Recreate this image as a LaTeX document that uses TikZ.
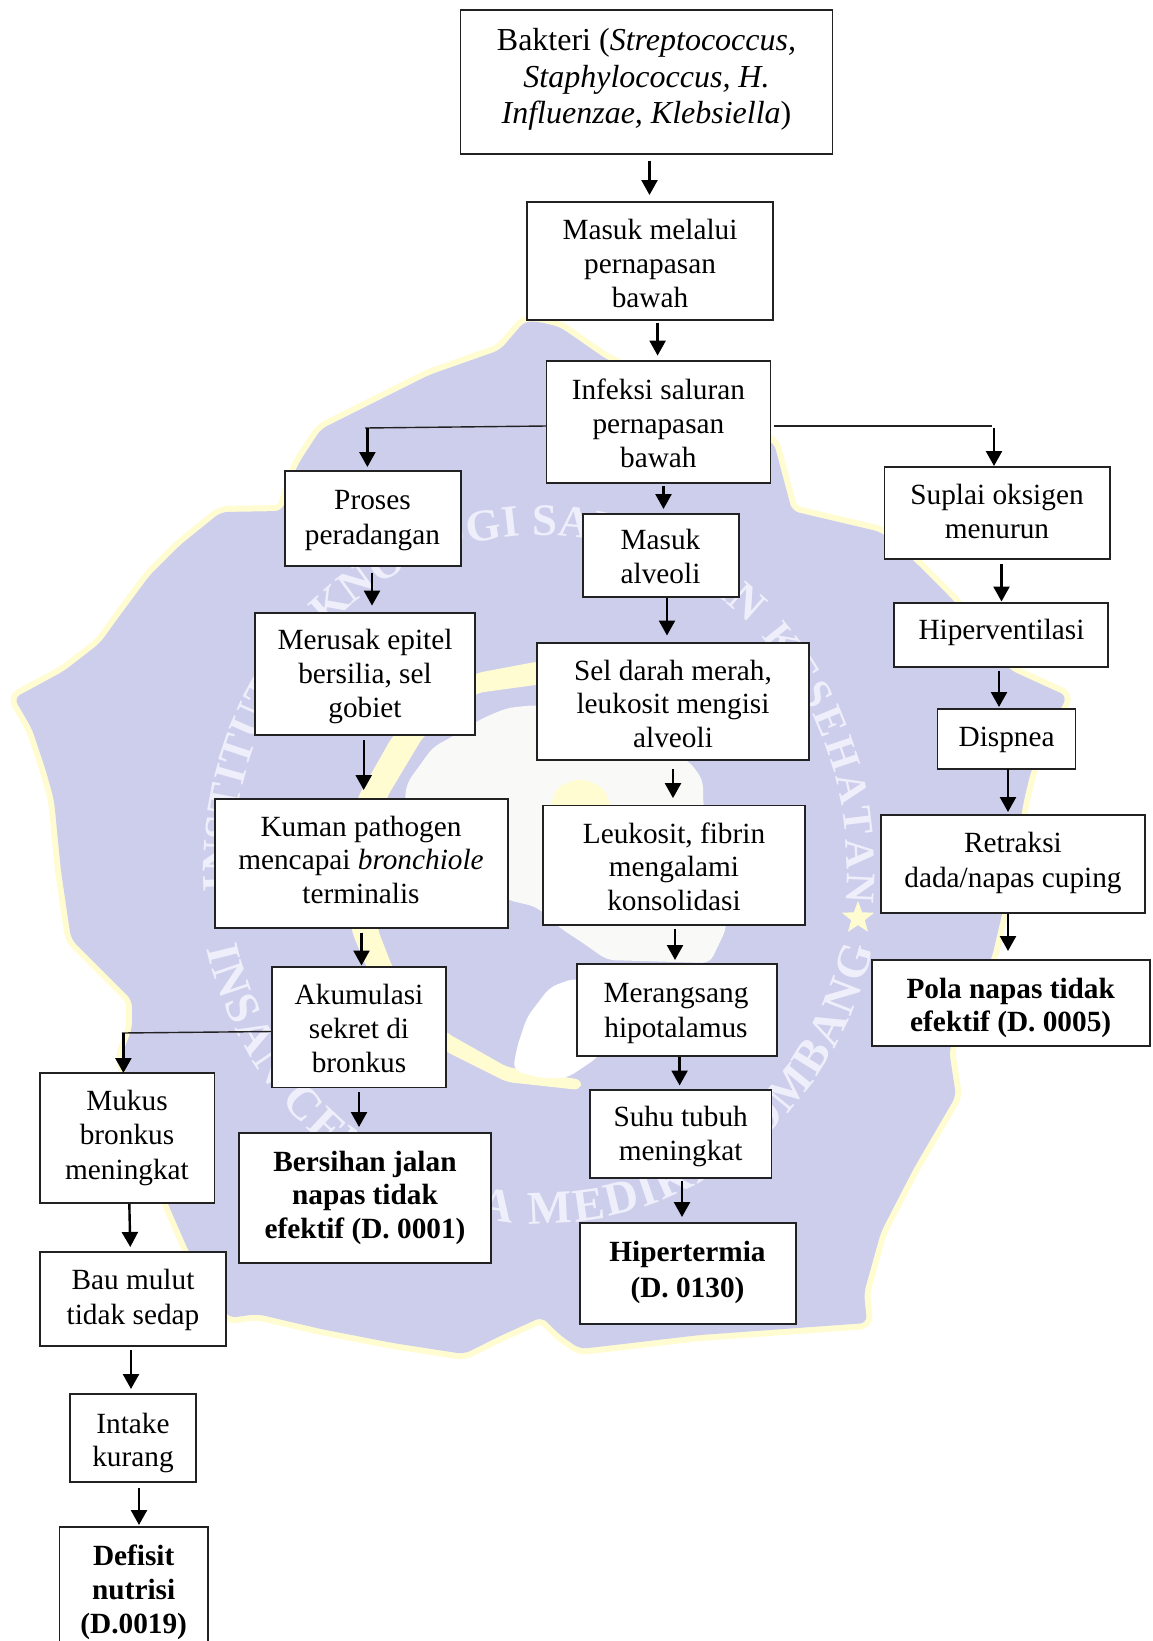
\documentclass[tikz,border=0pt]{standalone}
\usepackage{fontspec}
\setmainfont{Liberation Serif}
\usetikzlibrary{arrows.meta,shapes.geometric,decorations.text}
\definecolor{lav}{HTML}{CDCEEC}
\definecolor{wy}{HTML}{FFFCD2}
\definecolor{wm}{HTML}{EEEFFA}
\definecolor{wt}{HTML}{F9FAF8}
\definecolor{edgec}{HTML}{222222}
\tikzset{
  box/.style={draw=edgec,line width=1.4pt,fill=white,inner sep=0pt,outer sep=0pt,text=black},
  arr/.style={black,line width=2.4pt,-{Triangle[length=15pt,width=16pt]}},
  link/.style={edgec,line width=1.4pt},
  wmpath/.style={decorate,decoration={text along path,text align=fit to path,text={#1}}}
}
\newcommand\wmfont{\fontsize{47}{47}\selectfont\bfseries\color{wm}}
\newcommand\wmfonta{\fontsize{45}{47}\selectfont\bfseries\color{wm}}
\newcommand\wmfontb{\fontsize{42}{47}\selectfont\bfseries\color{wm}}
\def\fsz{29.3}
\newcommand\bx[9]{%
  \pgfmathsetmacro\cxx{(#2+#4)/2}\pgfmathsetmacro\cyy{(#3+#5)/2}%
  \pgfmathsetmacro\wdd{#4-#2}\pgfmathsetmacro\htt{#5-#3}%
  \pgfmathsetmacro\dxx{2*(#6-\cxx)}\pgfmathsetmacro\dyy{\cyy-#7-2}%
  \node[box,minimum width=\wdd pt,minimum height=\htt pt] (#1) at (\cxx,\cyy)
   {\fontsize{\fsz}{#8}\selectfont\raisebox{\dimexpr\dyy pt-.25em\relax}[0pt][0pt]{\makebox[0pt][c]{\hspace{\dxx pt}\begin{tabular}{@{}c@{}}#9\end{tabular}}}};}
% from node a to node b at abscissas x1,x2, with gaps g1,g2 to the boxes
\newcommand\conn[6]{\draw[arr,shorten <=#5pt,shorten >=#6pt] (#3,0 |- #1.south) -- (#4,0 |- #2.north);}
\begin{document}
\begin{tikzpicture}[x=1pt,y=-1pt]
\clip (0,0) rectangle (1152,1641);
\fill[white] (0,0) rectangle (1152,1641);
% watermark
\def\blob{(540,322) -- (560,327) -- (606,359) -- (690,400) -- (774,443) -- (792,511) -- (881,532) -- (914,561) -- (953,600) -- (1010,670) -- (1067,696) -- (1031,771) -- (1024,800) -- (1010,880) -- (992,957) -- (949,1050) -- (956,1096) -- (914,1168) -- (881,1232) -- (864,1293) -- (867,1323) -- (700,1335) -- (580,1349) -- (560,1335) -- (542,1317) -- (500,1336) -- (464,1354) -- (393,1343) -- (321,1329) -- (257,1314) -- (229,1318) -- (189,1252) -- (168,1204) -- (140,1120) -- (121,1057) -- (132,1029) -- (132,1000) -- (100,968) -- (71,939) -- (61,871) -- (54,800) -- (46,771) -- (32,729) -- (14,698) -- (64,671) -- (100,643) -- (121,614) -- (150,575) -- (179,546) -- (221,512) -- (282,511) -- (295,471) -- (300,461) -- (321,429) -- (357,411) -- (429,375) -- (500,350) -- (525,321) -- cycle}
\draw[wy,line width=12pt,line join=round,rounded corners=7pt] \blob;
\fill[lav,rounded corners=7pt] \blob;
% yellow ring
\fill[wy,rounded corners=6pt] (590,660) -- (535,662) -- (477,673) -- (430,700) -- (392,737) -- (358,797) -- (345,860) -- (352,932) -- (366,966) -- (400,1015) -- (447,1052) -- (507,1082) -- (580,1090) -- (582,1080) -- (507,1067) -- (447,1033) -- (405,990) -- (392,966) -- (378,930) -- (375,860) -- (387,797) -- (423,737) -- (477,693) -- (535,685) -- (590,680) -- cycle;
% pale figure
\fill[wt,rounded corners=8pt] (535,705) -- (600,715) -- (690,762) -- (703,780) -- (703,803) -- (727,927) -- (710,963) -- (607,960) -- (583,943) -- (560,928) -- (537,907) -- (508,900) -- (405,850) -- (405,797) -- (407,783) -- (433,747) -- (450,738) -- (483,718) -- (507,708) -- cycle;
\fill[white,rounded corners=8pt] (575,978) -- (550,987) -- (527,1017) -- (517,1047) -- (513,1070) -- (540,1078) -- (567,1078) -- (597,1058) -- (640,1000) -- cycle;
% small dome
\fill[wy,rounded corners=8pt] (547,815) -- (557,787) -- (580,778) -- (603,787) -- (615,815) -- cycle;
% ring lettering
\path[wmpath={|\wmfonta|INSTITUT TEKNOLOGI SAINS DAN}] plot[domain=184:47,samples=50] ({540+307*cos(\x)},{868-333*sin(\x)});
\path[wmpath={|\wmfontb|KESEHATAN}] plot[domain=44:-6,samples=25] ({540+307*cos(\x)},{868-333*sin(\x)});
\path[wmpath={|\wmfont|INSAN CENDEKIA MEDIKA JOMBANG}] plot[domain=193:347,samples=60] ({540+342*cos(\x)},{868-356*sin(\x)});
\node[star,star points=5,star point ratio=2.4,fill=wy,minimum size=34pt,inner sep=0pt] (starmark) at (858,918) {};
% boxes
\def\fsz{32}
\bx{bak}{460.5}{10}{832.5}{154}{646.5}{76}{36.7}{Bakteri (\textit{Streptococcus,}\\\textit{Staphylococcus, H.}\\\textit{Influenzae, Klebsiella})}
\def\fsz{29.3}
\bx{mas}{527}{202}{773}{320}{650}{264}{34}{Masuk melalui\\pernapasan\\bawah}
\bx{inf}{546.5}{361}{770.5}{483}{658.4}{424}{34}{Infeksi saluran\\pernapasan\\bawah}
\bx{pro}{285}{471}{461}{566}{372.5}{517}{35.5}{Proses\\peradangan}
\bx{sup}{884.5}{467}{1110}{559}{997}{512}{34}{Suplai oksigen\\menurun}
\bx{alv}{583}{514}{739}{597}{660.5}{557}{34}{Masuk\\alveoli}
\bx{mer}{255}{613}{475}{735}{365}{674}{34}{Merusak epitel\\bersilia, sel\\gobiet}
\bx{sel}{537}{643}{809}{760}{673}{704}{33.5}{Sel darah merah,\\leukosit mengisi\\alveoli}
\bx{hip}{894}{603}{1108}{667}{1001.5}{630}{34}{Hiperventilasi}
\bx{dis}{937.5}{709}{1075.5}{769}{1006.6}{736.4}{34}{Dispnea}
\bx{kum}{215}{799}{508}{928}{361}{860}{33.8}{Kuman pathogen\\mencapai \textit{bronchiole}\\terminalis}
\bx{leu}{543}{805.5}{805}{925}{674}{867}{33.5}{Leukosit, fibrin\\mengalami\\konsolidasi}
\bx{ret}{881}{815}{1145}{913}{1013}{859.5}{35}{Retraksi\\dada/napas cuping}
\bx{pol}{872}{960}{1150}{1046}{1010.7}{1005}{33.5}{\textbf{Pola napas tidak}\\\textbf{efektif (D. 0005)}}
\bx{aku}{272}{967}{446}{1087.5}{359}{1028.5}{34}{Akumulasi\\sekret di\\bronkus}
\bx{men}{577}{964}{777}{1056}{676}{1010}{35.5}{Merangsang\\hipotalamus}
\bx{suh}{590}{1090}{771.5}{1178}{680.7}{1134}{34}{Suhu tubuh\\meningkat}
\bx{muk}{40}{1073}{214.5}{1203}{127}{1135}{34.2}{Mukus\\bronkus\\meningkat}
\bx{ber}{239}{1133}{491}{1263}{365}{1195}{33.3}{\textbf{Bersihan jalan}\\\textbf{napas tidak}\\\textbf{efektif (D. 0001)}}
\bx{hit}{580}{1223}{796}{1324}{687.5}{1269}{36.8}{\textbf{Hipertermia}\\\textbf{(D. 0130)}}
\bx{bau}{40}{1252}{226}{1346}{133}{1296.7}{35}{Bau mulut\\tidak sedap}
\bx{itk}{70}{1394}{196}{1482}{133}{1440}{33.7}{Intake\\kurang}
\bx{def}{59.5}{1527}{208}{1660}{133.7}{1590}{34}{\textbf{Defisit}\\\textbf{nutrisi}\\\textbf{(D.0019)}}
% straight connectors
\conn{bak}{mas}{649.5}{649.5}{6.6}{7}
\conn{mas}{inf}{657.6}{657.6}{2.7}{5.4}
\conn{inf}{alv}{663.5}{663.5}{3}{5}
\conn{pro}{mer}{372}{372}{6.7}{7.4}
\conn{alv}{sel}{667}{667}{1}{7.5}
\conn{sup}{hip}{1001.5}{1001.5}{5}{1.5}
\conn{hip}{dis}{999}{999}{3.5}{2}
\conn{dis}{ret}{1008}{1008}{0.4}{3}
\conn{mer}{kum}{363.7}{363.7}{5}{9}
\conn{sel}{leu}{673}{673}{9}{7.4}
\conn{kum}{aku}{361.5}{361.5}{4.6}{1.5}
\conn{leu}{men}{675}{675}{4}{4}
\conn{ret}{pol}{1008}{1008}{1}{9}
\conn{aku}{ber}{359}{359}{4.5}{6}
\conn{men}{suh}{679.6}{679.6}{1}{4.5}
\conn{suh}{hit}{682}{682}{3}{6}
\conn{muk}{bau}{129.3}{130.4}{1}{5}
\conn{bau}{itk}{131}{131}{4}{5}
\conn{itk}{def}{139}{139}{6}{2}
% branches
\coordinate (jl) at (367.4,428);
\coordinate (jr) at (994,428);
\coordinate (jm) at (123.4,1033);
\draw[link] (inf.west |- 0,426) -- (365,428);
\draw[arr,shorten >=4pt] (jl) -- (jl |- pro.north);
\draw[link,shorten <=3pt] (inf.east |- 0,426) -- (992,426);
\draw[arr,shorten >=1pt] (jr) -- (jr |- sup.north);
\draw[link] (aku.west |- 0,1031.5) -- (122,1033);
\draw[arr] (jm) -- (jm |- muk.north);
\end{tikzpicture}
\end{document}
